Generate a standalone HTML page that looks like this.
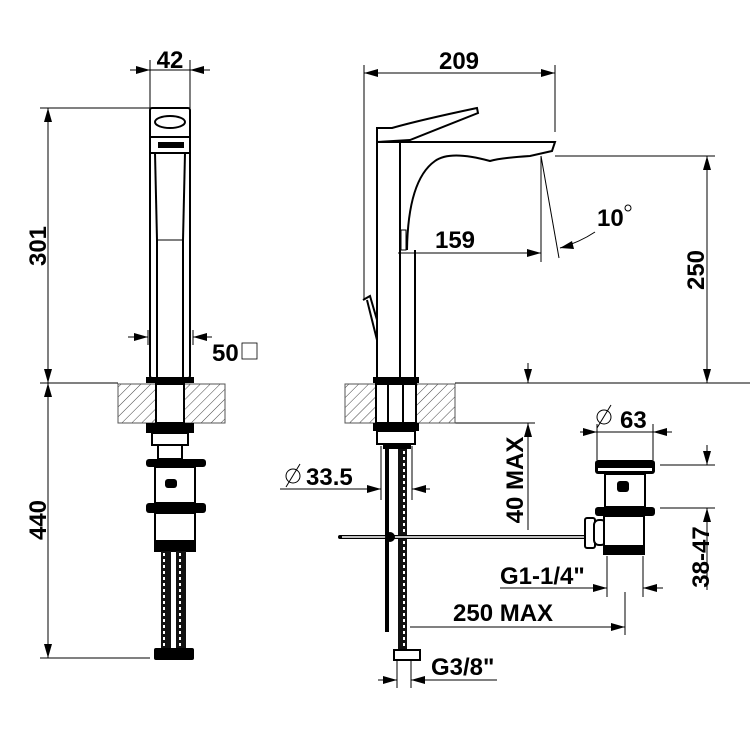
<!DOCTYPE html>
<html><head><style>
html,body{margin:0;padding:0;background:#fff;}
svg{display:block;}
text{font-family:"Liberation Sans",Arial,sans-serif;font-weight:bold;fill:#000;font-size:24px;}
</style></head><body>
<svg width="750" height="749" viewBox="0 0 750 749" xmlns="http://www.w3.org/2000/svg">
<defs>
<pattern id="h" width="7" height="7" patternUnits="userSpaceOnUse" patternTransform="rotate(45)">
<line x1="0" y1="0" x2="0" y2="7" stroke="#444" stroke-width="1"/>
</pattern>
<pattern id="hose" width="8" height="6" patternUnits="userSpaceOnUse">
<rect width="8" height="6" fill="#111"/><rect x="3" y="1" width="2" height="3" fill="#fff"/>
</pattern>
</defs>
<g stroke="#000" stroke-width="1" fill="none">
<line x1="40" y1="108" x2="150" y2="108"/>
<line x1="40" y1="383" x2="118" y2="383"/>
<line x1="40" y1="658" x2="150" y2="658"/>
<line x1="48" y1="108" x2="48" y2="658"/>
<line x1="150" y1="60" x2="150" y2="108"/>
<line x1="190" y1="60" x2="190" y2="108"/>
<line x1="130" y1="70" x2="210" y2="70"/>
<line x1="128" y1="337" x2="148" y2="337"/>
<line x1="193" y1="337" x2="212" y2="337"/>
<line x1="148" y1="330" x2="148" y2="345"/>
<line x1="193" y1="330" x2="193" y2="345"/>
</g>
<g fill="#000">
<polygon points="150,70 136,66 136,74"/><polygon points="190,70 204,66 204,74"/>
<polygon points="48,108 44,122 52,122"/><polygon points="48,383 44,369 52,369"/>
<polygon points="48,383 44,397 52,397"/><polygon points="48,658 44,644 52,644"/>
<polygon points="148,337 134,333 134,341"/><polygon points="193,337 207,333 207,341"/>
</g>
<text x="170" y="68" text-anchor="middle">42</text>
<text x="46" y="246" text-anchor="middle" transform="rotate(-90 46 246)">301</text>
<text x="46" y="520" text-anchor="middle" transform="rotate(-90 46 520)">440</text>
<text x="212" y="361">50</text>
<rect x="242" y="343" width="15" height="16" fill="none" stroke="#000" stroke-width="0.8"/>
<g stroke="#000" stroke-width="2" fill="none">
<rect x="150" y="108" width="40" height="270" rx="2"/>
<line x1="150" y1="137" x2="190" y2="137"/>
<line x1="150" y1="153" x2="190" y2="153"/>
<line x1="155" y1="153" x2="157" y2="240"/><line x1="185" y1="153" x2="183" y2="240"/>
<line x1="157" y1="240" x2="183" y2="240" stroke-width="1"/>
<line x1="157" y1="240" x2="157" y2="378"/><line x1="183" y1="240" x2="183" y2="378"/>
<ellipse cx="170" cy="122" rx="15" ry="6"/>
</g>
<rect x="158" y="142" width="26" height="6" fill="#000"/>
<rect x="146" y="377" width="48" height="6" fill="#000"/>
<rect x="118" y="384" width="107" height="39" fill="url(#h)" stroke="#555"/>
<rect x="156" y="384" width="28" height="39" fill="#fff" stroke="#000" stroke-width="2"/>
<rect x="146" y="423" width="48" height="10" fill="#000"/>
<rect x="152" y="433" width="36" height="12" fill="#fff" stroke="#000" stroke-width="2"/>
<rect x="158" y="445" width="24" height="14" fill="#fff" stroke="#000" stroke-width="2"/>
<rect x="146" y="459" width="60" height="8" rx="3" fill="#000"/>
<rect x="155" y="467" width="40" height="36" fill="#fff" stroke="#000" stroke-width="2"/>
<rect x="165" y="479" width="12" height="9" rx="3" fill="#000"/>
<rect x="146" y="503" width="60" height="10" rx="3" fill="#000"/>
<rect x="155" y="513" width="40" height="38" fill="#fff" stroke="#000" stroke-width="2"/>
<rect x="155" y="540" width="40" height="11" fill="#000"/>
<rect x="161" y="551" width="10" height="97" fill="url(#hose)"/>
<rect x="176" y="551" width="10" height="97" fill="url(#hose)"/>
<rect x="154" y="648" width="40" height="12" rx="2" fill="#000"/>
<g stroke="#000" stroke-width="1" fill="none">
<line x1="364" y1="65" x2="364" y2="300"/>
<line x1="555" y1="65" x2="555" y2="132"/>
<line x1="364" y1="73" x2="555" y2="73"/>
<line x1="541" y1="156" x2="541" y2="262"/>
<line x1="398" y1="253" x2="541" y2="253"/>
<line x1="541" y1="156" x2="559" y2="258"/>
<path d="M560,248 Q580,242 595,232"/>
<line x1="555" y1="156" x2="715" y2="156"/>
<line x1="707" y1="156" x2="707" y2="383"/>
<line x1="455" y1="383" x2="750" y2="383"/>
<line x1="528" y1="363" x2="528" y2="383"/>
<line x1="528" y1="423" x2="528" y2="530"/>
<line x1="455" y1="423" x2="535" y2="423"/>
<line x1="580" y1="432" x2="672" y2="432"/>
<line x1="597" y1="424" x2="597" y2="460"/>
<line x1="653" y1="424" x2="653" y2="460"/>
<line x1="660" y1="465" x2="715" y2="465"/>
<line x1="660" y1="508" x2="715" y2="508"/>
<line x1="707" y1="445" x2="707" y2="465"/>
<line x1="707" y1="508" x2="707" y2="590"/>
<line x1="500" y1="588" x2="607" y2="588"/>
<line x1="643" y1="588" x2="663" y2="588"/>
<line x1="607" y1="556" x2="607" y2="597"/>
<line x1="643" y1="556" x2="643" y2="597"/>
<line x1="625" y1="592" x2="625" y2="635"/>
<line x1="410" y1="627" x2="625" y2="627"/>
<line x1="280" y1="489" x2="381" y2="489"/>
<line x1="412" y1="489" x2="430" y2="489"/>
<line x1="381" y1="446" x2="381" y2="500"/>
<line x1="412" y1="446" x2="412" y2="500"/>
<line x1="378" y1="680" x2="397" y2="680"/>
<line x1="411" y1="680" x2="497" y2="680"/>
<line x1="397" y1="660" x2="397" y2="688"/>
<line x1="411" y1="660" x2="411" y2="688"/>
<line x1="286" y1="487" x2="300" y2="464"/>
<circle cx="293" cy="476" r="7"/>
<line x1="597" y1="428" x2="611" y2="405"/>
<circle cx="604" cy="417" r="7"/>
</g>
<g fill="#000">
<polygon points="364,73 378,69 378,77"/><polygon points="555,73 541,69 541,77"/>
<polygon points="541,253 527,249 527,257"/><polygon points="560,248 572,241 574,249"/>
<polygon points="707,156 703,170 711,170"/><polygon points="707,383 703,369 711,369"/>
<polygon points="528,383 524,369 532,369"/><polygon points="528,423 524,437 532,437"/>
<polygon points="597,432 583,428 583,436"/><polygon points="653,432 667,428 667,436"/>
<polygon points="707,465 703,451 711,451"/><polygon points="707,508 703,522 711,522"/>
<polygon points="607,588 593,584 593,592"/><polygon points="643,588 657,584 657,592"/>
<polygon points="625,627 611,623 611,631"/>
<polygon points="381,489 367,485 367,493"/><polygon points="412,489 426,485 426,493"/>
<polygon points="397,680 383,676 383,684"/><polygon points="411,680 425,676 425,684"/>
</g>
<text x="459" y="69" text-anchor="middle">209</text>
<text x="455" y="248" text-anchor="middle">159</text>
<text x="597" y="226">10</text>
<circle cx="628" cy="208" r="3" fill="none" stroke="#000" stroke-width="1"/>
<text x="704" y="270" text-anchor="middle" transform="rotate(-90 704 270)">250</text>
<text x="523" y="480" text-anchor="middle" transform="rotate(-90 523 480)">40 MAX</text>
<text x="620" y="428">63</text>
<text x="709" y="557" text-anchor="middle" transform="rotate(-90 709 557)">38-47</text>
<text x="500" y="584">G1-1/4"</text>
<text x="453" y="621">250 MAX</text>
<text x="431" y="675">G3/8"</text>
<text x="306" y="485">33.5</text>
<g stroke="#000" stroke-width="2" fill="none">
<line x1="377" y1="142" x2="377" y2="378"/>
<line x1="400" y1="142" x2="400" y2="378"/>
<line x1="415" y1="250" x2="415" y2="378"/>
<path d="M377,128 L392,128 Q420,120 477,108 L478,113 L410,140 L377,142 Z"/>
<path d="M377,142 L555,142 L552,151 L530,156 Q500,158 490,161 Q450,150 435,161 Q408,180 407,250"/>
<line x1="367" y1="300" x2="377" y2="340"/>
<path d="M363,300 L370,296 L377,320"/>
</g>
<rect x="401" y="230" width="5" height="20" fill="#fff" stroke="#000"/>
<rect x="373" y="377" width="46" height="6" fill="#000"/>
<rect x="345" y="384" width="110" height="39" fill="url(#h)" stroke="#555"/>
<rect x="376" y="384" width="40" height="39" fill="#fff" stroke="#000" stroke-width="2"/>
<line x1="388" y1="384" x2="388" y2="423" stroke="#000" stroke-width="2"/>
<line x1="403" y1="384" x2="403" y2="423" stroke="#000" stroke-width="2"/>
<rect x="373" y="423" width="46" height="8" fill="#000"/>
<rect x="377" y="431" width="38" height="13" fill="#fff" stroke="#000" stroke-width="2"/>
<rect x="383" y="444" width="28" height="5" fill="#000"/>
<rect x="385" y="449" width="4" height="183" fill="#000"/>
<rect x="398" y="449" width="9" height="200" fill="url(#hose)"/>
<rect x="394" y="650" width="26" height="10" fill="#fff" stroke="#000" stroke-width="2"/>
<line x1="340" y1="537" x2="586" y2="537" stroke="#000" stroke-width="4" stroke-linecap="round"/>
<line x1="342" y1="537" x2="584" y2="537" stroke="#fff" stroke-width="1.5"/>
<circle cx="390" cy="537" r="5" fill="#000"/>
<rect x="585" y="518" width="10" height="30" rx="2" fill="#fff" stroke="#000" stroke-width="2"/>
<rect x="594" y="520" width="12" height="25" rx="5" fill="#fff" stroke="#000" stroke-width="2"/>
<rect x="595" y="460" width="60" height="14" rx="3" fill="#000"/>
<rect x="598" y="468" width="54" height="3" fill="#fff"/>
<rect x="605" y="474" width="40" height="33" fill="#fff" stroke="#000" stroke-width="2"/>
<rect x="617" y="481" width="12" height="11" rx="3" fill="#000"/>
<rect x="595" y="507" width="60" height="9" rx="3" fill="#000"/>
<rect x="604" y="516" width="40" height="38" fill="#fff" stroke="#000" stroke-width="2"/>
<rect x="604" y="545" width="40" height="10" fill="#000"/>
</svg>
</body></html>
